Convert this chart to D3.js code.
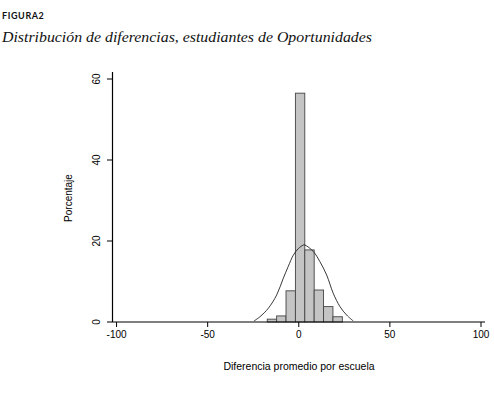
<!DOCTYPE html>
<html>
<head>
<meta charset="utf-8">
<script src="https://cdn.jsdelivr.net/npm/d3@7"></script>
<style>
  body { margin: 0; background: #fff; }
  svg { display: block; }
</style>
</head>
<body>
<svg id="chart" width="494" height="393"></svg>
<script>
// Histograma de diferencias con curva normal superpuesta

const binEdges = [-17.3, -12.15, -7, -1.85, 3.3, 8.45, 13.6, 18.75, 23.9];
const binPct = [0.7, 1.5, 7.7, 56.5, 17.8, 7.9, 3.8, 1.3];

const curveX = [-24.6, -21.3, -16.7, -12.1, -8.5, -5.8, -3.0, -0.3, 2.5, 3.4, 8.0, 11.6, 15.3, 18.9, 22.6, 26.3, 29.9];
const curveY = [0.25, 1.3, 3.4, 6.7, 10.8, 13.7, 16.5, 18.1, 19.0, 19.0, 17.4, 14.9, 11.6, 7.1, 3.8, 1.7, 0.25];

const xTicks = [-100, -50, 0, 50, 100];
const yTicks = [0, 20, 40, 60];

const svg = d3.select('#chart');

const x = d3.scaleLinear().domain([-102.5, 100]).range([112, 481]);
const y = d3.scaleLinear().domain([0, 60]).range([322, 79]);

// titulo
svg.append('text')
    .attr('x', 2).attr('y', 19)
    .attr('font-family', 'Lato, "DejaVu Sans", sans-serif')
    .attr('font-size', 9)
    .attr('font-weight', 'bold')
    .attr('letter-spacing', 0.6)
    .attr('fill', '#111')
    .text('FIGURA2');

svg.append('text')
    .attr('x', 2).attr('y', 42)
    .attr('font-family', '"Liberation Serif", serif')
    .attr('font-style', 'italic')
    .attr('font-size', 15.5)
    .attr('fill', '#111')
    .attr('textLength', 370)
    .attr('lengthAdjust', 'spacingAndGlyphs')
    .text('Distribución de diferencias, estudiantes de Oportunidades');

// barras
const bars = binPct.map((v, i) => ({ x0: binEdges[i], x1: binEdges[i + 1], v }));
svg.append('g')
    .selectAll('rect')
    .data(bars)
    .join('rect')
    .attr('x', d => x(d.x0))
    .attr('width', d => x(d.x1) - x(d.x0))
    .attr('y', d => y(d.v))
    .attr('height', d => y(0) - y(d.v))
    .attr('fill', '#c4c4c4')
    .attr('stroke', '#444')
    .attr('stroke-width', 0.9);

// curva normal
const line = d3.line()
    .x((d, i) => x(curveX[i]))
    .y(d => y(d))
    .curve(d3.curveCatmullRom);

svg.append('path')
    .datum(curveY)
    .attr('d', line)
    .attr('fill', 'none')
    .attr('stroke', '#222')
    .attr('stroke-width', 0.9);

// ejes
const axisFont = 'Arial, "Liberation Sans", sans-serif';

svg.append('line')
    .attr('x1', 112).attr('x2', 485)
    .attr('y1', y(0)).attr('y2', y(0))
    .attr('stroke', '#000').attr('stroke-width', 1.2);

svg.append('line')
    .attr('x1', 112.5).attr('x2', 112.5)
    .attr('y1', y(0)).attr('y2', 72)
    .attr('stroke', '#000').attr('stroke-width', 1.2);

const xg = svg.append('g');
xTicks.forEach(t => {
    xg.append('line')
        .attr('x1', x(t)).attr('x2', x(t))
        .attr('y1', y(0)).attr('y2', y(0) + 5)
        .attr('stroke', '#000');
    xg.append('text')
        .attr('x', x(t)).attr('y', 338)
        .attr('text-anchor', 'middle')
        .attr('font-family', axisFont)
        .attr('font-size', 10)
        .text(t);
});

const yg = svg.append('g');
yTicks.forEach(t => {
    yg.append('line')
        .attr('x1', 112).attr('x2', 107)
        .attr('y1', y(t)).attr('y2', y(t))
        .attr('stroke', '#000');
    yg.append('text')
        .attr('transform', `translate(100,${y(t)}) rotate(-90)`)
        .attr('text-anchor', 'middle')
        .attr('font-family', axisFont)
        .attr('font-size', 10)
        .text(t);
});

svg.append('text')
    .attr('transform', 'translate(72,198) rotate(-90)')
    .attr('text-anchor', 'middle')
    .attr('font-family', axisFont)
    .attr('font-size', 10)
    .text('Porcentaje');

svg.append('text')
    .attr('x', 299).attr('y', 370)
    .attr('text-anchor', 'middle')
    .attr('font-family', axisFont)
    .attr('font-size', 10.5)
    .text('Diferencia promedio por escuela');
</script>
</body>
</html>
